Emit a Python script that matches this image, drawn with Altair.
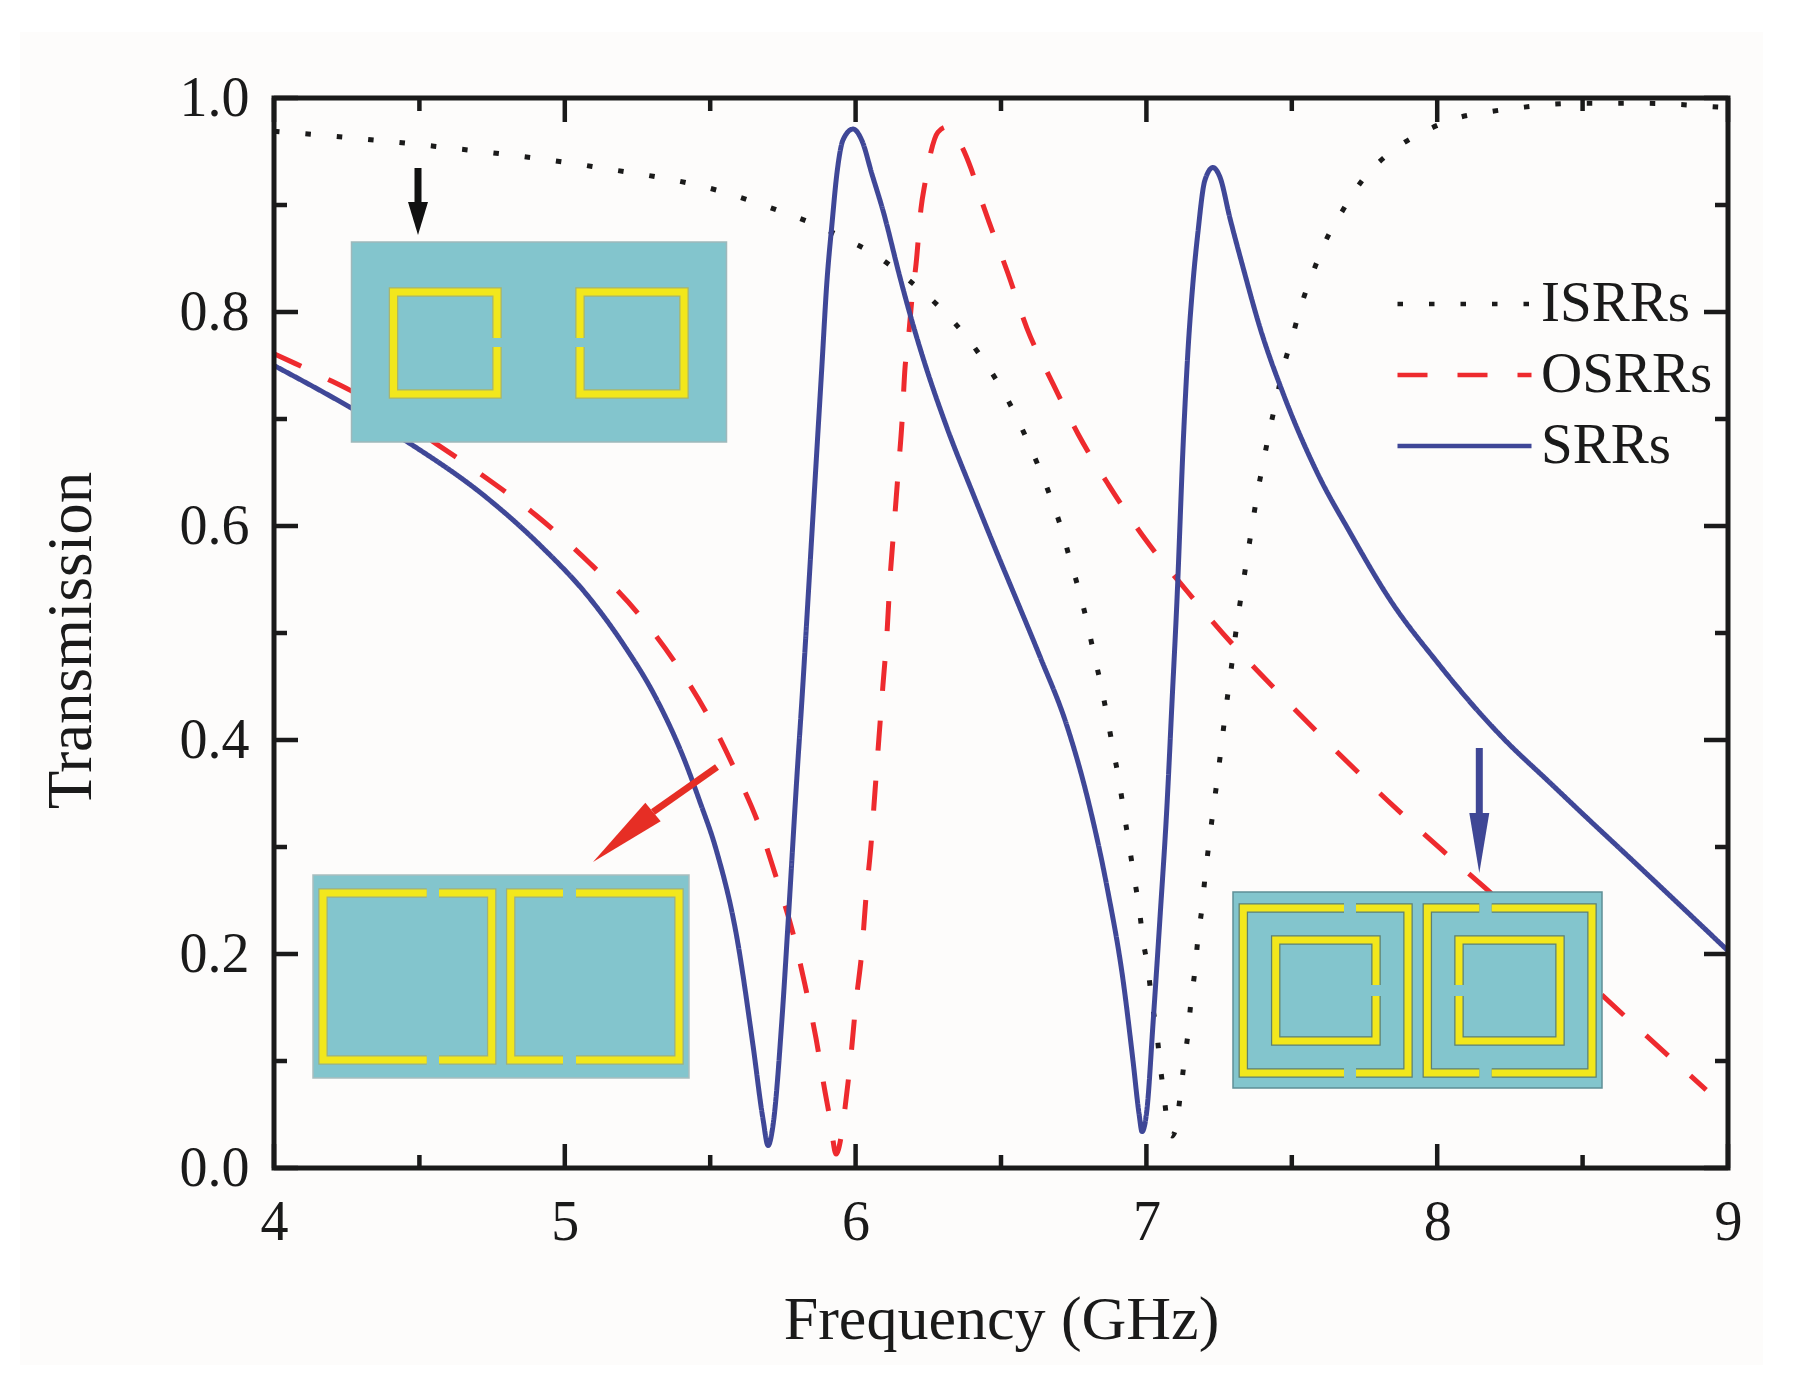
import altair as alt
import pandas as pd
import math

# ---- values ----
srr_x = [4.00,4.261,4.468,4.729,4.915,5.087,5.200,5.314,5.406,5.465,5.520,5.592,5.647,5.682,5.699,5.716,5.747,5.768,5.798,5.816,5.836,5.860,5.884,5.901,5.919,5.936,5.957,5.991,6.022,6.056,6.094,6.153,6.187,6.232,6.314,6.404,6.486,6.555,6.634,6.727,6.800,6.865,6.920,6.954,6.975,6.985,7.002,7.023,7.047,7.071,7.088,7.105,7.128,7.143,7.160,7.177,7.201,7.229,7.253,7.287,7.332,7.391,7.470,7.587,7.700,7.838,7.999,8.147,8.233,8.388,8.512,8.646,9.0]
srr_y = [0.750,0.711,0.677,0.627,0.582,0.532,0.490,0.439,0.385,0.342,0.298,0.215,0.115,0.045,0.021,0.040,0.140,0.230,0.365,0.440,0.530,0.640,0.749,0.827,0.883,0.930,0.961,0.971,0.960,0.929,0.895,0.832,0.798,0.757,0.692,0.630,0.575,0.530,0.478,0.413,0.343,0.262,0.175,0.100,0.050,0.034,0.055,0.136,0.235,0.340,0.435,0.530,0.686,0.764,0.827,0.874,0.923,0.935,0.926,0.888,0.842,0.785,0.724,0.650,0.594,0.531,0.473,0.425,0.400,0.360,0.328,0.294,0.203]

osrr_x = [4.00,4.072,4.179,4.261,4.557,4.719,4.901,5.087,5.259,5.393,5.506,5.592,5.671,5.730,5.785,5.826,5.864,5.895,5.912,5.933,5.950,5.964,5.984,6.001,6.022,6.036,6.053,6.067,6.080,6.094,6.108,6.118,6.132,6.146,6.160,6.170,6.180,6.194,6.208,6.225,6.239,6.256,6.283,6.314,6.359,6.397,6.428,6.459,6.524,6.589,6.675,6.765,6.871,6.995,7.140,7.298,7.466,7.648,7.831,8.017,8.164,8.653,8.835,8.925]
osrr_y = [0.761,0.752,0.738,0.727,0.677,0.647,0.610,0.565,0.516,0.467,0.416,0.368,0.318,0.269,0.219,0.171,0.121,0.071,0.046,0.013,0.029,0.057,0.105,0.154,0.204,0.254,0.302,0.353,0.401,0.451,0.500,0.549,0.599,0.649,0.699,0.748,0.771,0.813,0.845,0.897,0.921,0.946,0.968,0.973,0.958,0.934,0.908,0.884,0.836,0.785,0.735,0.686,0.638,0.588,0.539,0.489,0.441,0.391,0.343,0.297,0.262,0.140,0.095,0.073]

isrr_x = [4.00,4.550,5.094,5.534,5.743,5.850,5.960,6.070,6.177,6.287,6.383,6.462,6.527,6.579,6.627,6.669,6.706,6.737,6.768,6.796,6.820,6.844,6.865,6.885,6.906,6.923,6.940,6.957,6.975,6.988,7.006,7.019,7.036,7.047,7.061,7.074,7.088,7.102,7.116,7.129,7.143,7.153,7.167,7.177,7.191,7.202,7.215,7.229,7.243,7.257,7.270,7.284,7.298,7.312,7.329,7.346,7.363,7.380,7.401,7.422,7.446,7.470,7.501,7.532,7.570,7.614,7.673,7.745,7.848,7.958,8.065,8.175,8.285,8.388,8.498,8.611,8.722,8.828,8.935,9.0]
isrr_y = [0.969,0.955,0.936,0.913,0.894,0.883,0.869,0.853,0.831,0.805,0.776,0.746,0.716,0.687,0.657,0.628,0.599,0.569,0.540,0.510,0.480,0.451,0.422,0.392,0.362,0.332,0.303,0.273,0.243,0.214,0.185,0.155,0.126,0.097,0.067,0.038,0.030,0.038,0.067,0.097,0.126,0.155,0.185,0.214,0.243,0.273,0.303,0.333,0.362,0.392,0.422,0.451,0.480,0.510,0.540,0.570,0.599,0.628,0.658,0.687,0.717,0.747,0.776,0.806,0.835,0.865,0.894,0.924,0.951,0.969,0.981,0.987,0.991,0.994,0.995,0.995,0.995,0.994,0.992,0.991]

series_names = ["ISRRs", "OSRRs", "SRRs"]
series_colors = ["#1a1a1a", "#EE2A2E", "#3F4797"]
series_dashes = [[5.5, 26], [30, 30], [1, 0]]

x_major = [4, 5, 6, 7, 8, 9]
x_minor = [4.5, 5.5, 6.5, 7.5, 8.5]
y_major = [0.0, 0.2, 0.4, 0.6, 0.8, 1.0]
y_minor = [0.1, 0.3, 0.5, 0.7, 0.9]

X_TITLE = "Frequency (GHz)"
Y_TITLE = "Transmission"
FONT = "Liberation Serif"
INK = "#1a1a1a"

# ---- plot frame on the page ----
LEFT, TOP = 274, 98
W, H = 1454, 1070

def fx(px):
    return 4 + (px - LEFT) / W * 5

def fy(py):
    return (TOP + H - py) / H

x_scale = alt.Scale(domain=[4, 9], nice=False, zero=False)
y_scale = alt.Scale(domain=[0, 1], nice=False, zero=False)

x_axis = alt.Axis(values=x_major, format="d", domain=False, ticks=False, grid=False, zindex=1,
                  labelFont=FONT, labelFontSize=56, labelColor=INK, labelPadding=27, labelFlush=False,
                  titleFont=FONT, titleFontSize=62, titleFontWeight="normal", titleColor=INK,
                  titlePadding=39)
y_axis = alt.Axis(values=y_major, format=".1f", domain=False, ticks=False, grid=False, zindex=1,
                  labelFont=FONT, labelFontSize=56, labelColor=INK, labelPadding=25, labelFlush=False,
                  titleFont=FONT, titleFontSize=63, titleFontWeight="normal", titleColor=INK,
                  titlePadding=76, titleY=542)

def X(field):
    return alt.X(field, scale=x_scale, axis=x_axis, title=X_TITLE)

def Y(field):
    return alt.Y(field, scale=y_scale, axis=y_axis, title=Y_TITLE)

# ---- paper ----
paper = alt.Chart(pd.DataFrame({"a": [0]})).mark_rect(color="#FDFCFB").encode(
    x=alt.value(20 - LEFT), x2=alt.value(1763 - LEFT),
    y=alt.value(32 - TOP), y2=alt.value(1373 - TOP))

# ---- curves ----
rows = []
for name, xs, ys in [("ISRRs", isrr_x, isrr_y), ("OSRRs", osrr_x, osrr_y), ("SRRs", srr_x, srr_y)]:
    rows += [{"f": a, "t": b, "series": name} for a, b in zip(xs, ys)]
legend = alt.Legend(
    orient="none", legendX=1395 - LEFT, legendY=274 - TOP, title=None,
    symbolType="stroke", symbolSize=134 ** 2, symbolStrokeWidth=4.6,
    labelFont=FONT, labelFontSize=57, labelColor=INK, labelOffset=7,
    labelLimit=300, clipHeight=60, rowPadding=11, padding=0)
curves = alt.Chart(pd.DataFrame(rows)).mark_line(
    strokeWidth=5, interpolate="monotone", clip=True, strokeCap="butt").encode(
    x=X("f:Q"), y=Y("t:Q"),
    color=alt.Color("series:N", scale=alt.Scale(domain=series_names, range=series_colors), legend=legend),
    strokeDash=alt.StrokeDash("series:N", scale=alt.Scale(domain=series_names, range=series_dashes), legend=legend),
)

# ---- inset schematics ----
def box(px0, px1, py0, py1, stroke):
    d = pd.DataFrame({"a": [fx(px0)], "b": [fx(px1)], "c": [fy(py0)], "d": [fy(py1)]})
    return alt.Chart(d).mark_rect(color="#83C5CD", stroke=stroke, strokeWidth=1.5).encode(
        x=X("a:Q"), x2="b:Q", y=Y("c:Q"), y2="d:Q")

def rings(paths, edge, width=7):
    rows = []
    for k, p in enumerate(paths):
        rows += [{"x": fx(a), "y": fy(b), "p": k, "i": i} for i, (a, b) in enumerate(p)]
    d = pd.DataFrame(rows)
    enc = dict(x=X("x:Q"), y=Y("y:Q"), detail="p:N", order=alt.Order("i:Q"))
    under = alt.Chart(d).mark_line(color=edge, strokeWidth=width + 2.5, strokeCap="butt", strokeJoin="miter").encode(**enc)
    over = alt.Chart(d).mark_line(color="#F2E71C", strokeWidth=width, strokeCap="butt", strokeJoin="miter").encode(**enc)
    return [under, over]

def split_c(xl, xr, yt, yb, gap0, gap1, side):
    """Square ring with a slit in its right or left side."""
    near, far = (xr, xl) if side == "right" else (xl, xr)
    return [[(near, gap0), (near, yt), (far, yt), (far, yb), (near, yb), (near, gap1)]]

def split_tb(xl, xr, yt, yb, gap0, gap1):
    """Square ring with slits in its top and bottom sides."""
    return [[(gap0, yt), (xl, yt), (xl, yb), (gap0, yb)],
            [(gap1, yt), (xr, yt), (xr, yb), (gap1, yb)]]

ins1 = [box(351.5, 726.5, 242, 442, "#9FB8BB")] + rings(
    split_c(393.5, 497, 292, 394, 338, 347, "right") + split_c(580, 684, 292, 394, 338, 347, "left"),
    "#A9B56A")
ins2 = [box(313, 689, 875, 1078, "#A9BDBF")] + rings(
    split_tb(323, 491.7, 893, 1060, 426.7, 439) + split_tb(510.7, 679, 893, 1060, 563, 576),
    "#9DB080")
ins3 = [box(1233, 1602, 892, 1088, "#5F8F96")] + rings(
    split_tb(1243.3, 1408, 908, 1073, 1344, 1356) + split_tb(1427.3, 1592, 908, 1073, 1479.3, 1491.7)
    + split_c(1275.7, 1376, 940, 1041, 985, 996, "right") + split_c(1459, 1560, 940, 1041, 985, 996, "left"),
    "#5F8070")

# ---- arrows ----
def arrow(tail, neck, tip, color, half):
    """Shaft from tail to neck, then a pointed head from neck to tip."""
    shaft = pd.DataFrame({"x": [fx(tail[0]), fx(neck[0])], "y": [fy(tail[1]), fy(neck[1])], "i": [0, 1]})
    line = alt.Chart(shaft).mark_line(color=color, strokeWidth=7, strokeCap="butt").encode(
        x=X("x:Q"), y=Y("y:Q"), order=alt.Order("i:Q"))
    dx, dy = tip[0] - neck[0], tip[1] - neck[1]
    length = math.hypot(dx, dy)
    angle = math.degrees(math.atan2(-dx, dy)) % 360
    w = half / (length / 2)
    mid = pd.DataFrame({"x": [fx((neck[0] + tip[0]) / 2)], "y": [fy((neck[1] + tip[1]) / 2)]})
    head = alt.Chart(mid).mark_point(
        shape=f"M {-w:.3f} -1 L {w:.3f} -1 L 0 1 Z", size=length ** 2, angle=angle,
        filled=True, opacity=1, color=color, strokeWidth=0).encode(x=X("x:Q"), y=Y("y:Q"))
    return [line, head]

arrows = (arrow((418, 168), (418, 202), (418, 235), "#111111", 10)
          + arrow((717, 767), (653, 812), (593, 862), "#E62E25", 12)
          + arrow((1479.3, 748), (1479.3, 813), (1479.3, 873), "#3F4795", 10))

# ---- ticks and frame ----
def vticks(vals, length, edge):
    y0, y1 = (H, H - length) if edge == "bottom" else (0, length)
    return alt.Chart(pd.DataFrame({"v": vals})).mark_rule(color=INK, strokeWidth=4.5).encode(
        x=X("v:Q"), y=alt.value(y0), y2=alt.value(y1))

def hticks(vals, length, edge):
    x0, x1 = (0, length) if edge == "left" else (W, W - length)
    return alt.Chart(pd.DataFrame({"v": vals})).mark_rule(color=INK, strokeWidth=4.5).encode(
        y=Y("v:Q"), x=alt.value(x0), x2=alt.value(x1))

ticks = []
for edge in ["bottom", "top"]:
    ticks += [vticks(x_major, 24, edge), vticks(x_minor, 13, edge)]
for edge in ["left", "right"]:
    ticks += [hticks(y_major, 24, edge), hticks(y_minor, 13, edge)]

frame = alt.Chart(pd.DataFrame({"a": [0]})).mark_rect(
    fillOpacity=0, stroke=INK, strokeWidth=5).encode(
    x=alt.value(0), x2=alt.value(W), y=alt.value(0), y2=alt.value(H))

layers = [paper, curves] + ins1 + ins2 + ins3 + arrows + ticks + [frame]
chart = alt.layer(*layers).properties(
    width=W, height=H, background="white",
    autosize=alt.AutoSizeParams(type="none"),
    padding={"left": LEFT - 8, "top": TOP - 8, "right": 1805 - 16 - (LEFT - 8) - W, "bottom": 1373 - 16 - (TOP - 8) - H},
).configure_view(stroke=None)

chart.save("out.html", embed_options={"renderer": "svg", "actions": False})
